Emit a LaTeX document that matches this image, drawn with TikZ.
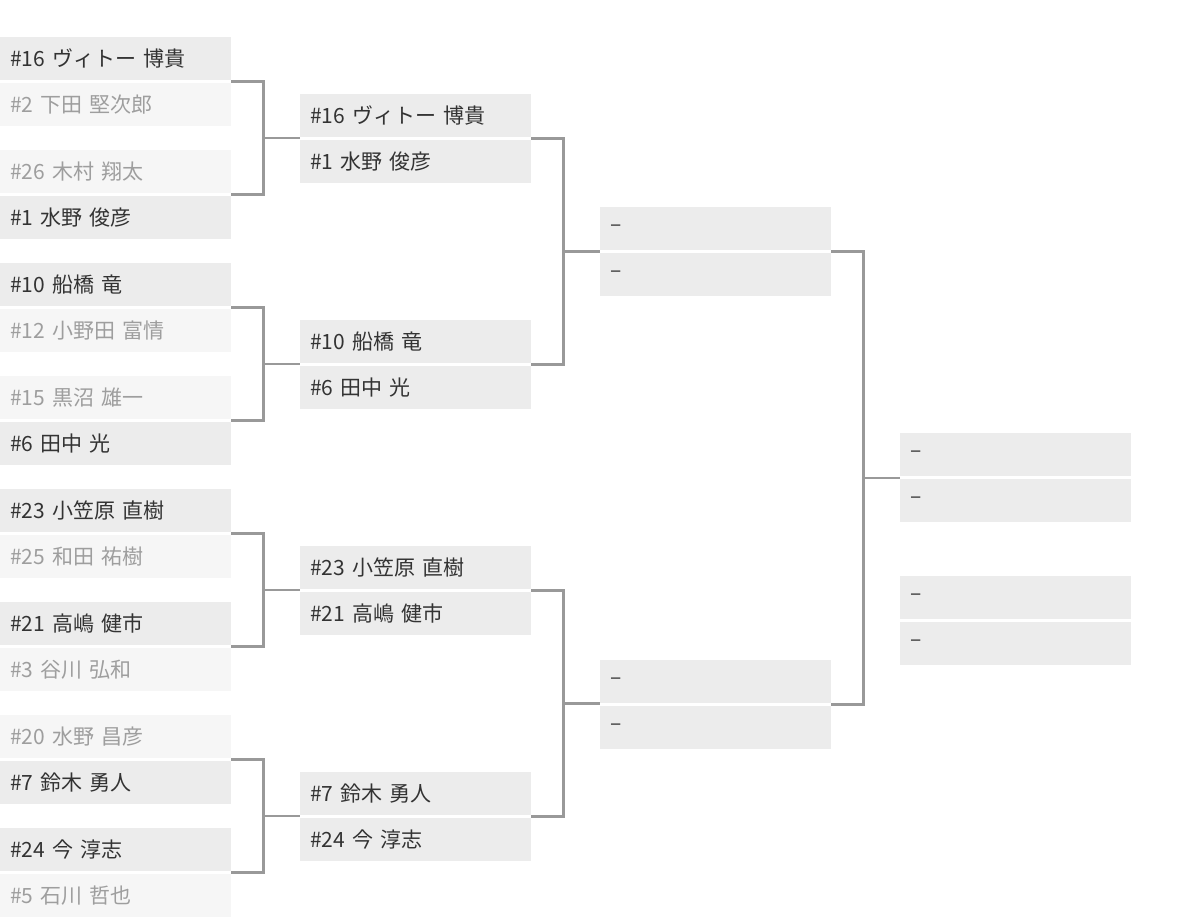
\documentclass[tikz,border=0pt]{standalone}
\usepackage{fontspec}
\setmainfont{Noto Sans CJK JP}
\usetikzlibrary{calc}
\definecolor{winfill}{HTML}{ECECEC}
\definecolor{losefill}{HTML}{F6F6F6}
\definecolor{wire}{HTML}{999999}
\tikzset{
  slot/.style={anchor=north west, minimum width=231pt, minimum height=43pt,
    inner sep=0pt, inner xsep=10pt, text width=211pt, align=left,
    font=\fontsize{21}{21}\selectfont},
  win/.style={slot, fill=winfill, text=black!80},
  lose/.style={slot, fill=losefill, text=black!38},
  wiring/.style={draw=wire, line width=2.5pt}
}
% one match: two boxes, top at y
\newcommand{\match}[7]{%
  \node[#4] (#1a) at (#2,#3) {#5};
  \node[#6] (#1b) at (#2,#3+46) {#7};
  \coordinate (#1m) at ($(#1a.south east)!0.5!(#1b.north east)$);
}
\newcommand{\joinup}[3]{%
  \draw[wiring] (#1m) -- ++(32,0) |- (#2m);
  \draw[wiring] ($(#1m)!0.5!(#2m)$) ++(32,0) -- ($(#1m)!0.5!(#2m)+(69,0)$) coordinate (#3);
}
\begin{document}
\begin{tikzpicture}[x=1pt,y=-1pt]
\useasboundingbox (0,0) rectangle (1200,922);
% round 1
\match{p1}{0}{37}{win}{\#16 ヴィトー 博貴}{lose}{\#2 下田 堅次郎}
\match{p2}{0}{150}{lose}{\#26 木村 翔太}{win}{\#1 水野 俊彦}
\match{p3}{0}{263}{win}{\#10 船橋 竜}{lose}{\#12 小野田 富情}
\match{p4}{0}{376}{lose}{\#15 黒沼 雄一}{win}{\#6 田中 光}
\match{p5}{0}{489}{win}{\#23 小笠原 直樹}{lose}{\#25 和田 祐樹}
\match{p6}{0}{602}{win}{\#21 高嶋 健市}{lose}{\#3 谷川 弘和}
\match{p7}{0}{715}{lose}{\#20 水野 昌彦}{win}{\#7 鈴木 勇人}
\match{p8}{0}{828}{win}{\#24 今 淳志}{lose}{\#5 石川 哲也}
% round 2
\match{q1}{300}{94}{win}{\#16 ヴィトー 博貴}{win}{\#1 水野 俊彦}
\match{q2}{300}{320}{win}{\#10 船橋 竜}{win}{\#6 田中 光}
\match{q3}{300}{546}{win}{\#23 小笠原 直樹}{win}{\#21 高嶋 健市}
\match{q4}{300}{772}{win}{\#7 鈴木 勇人}{win}{\#24 今 淳志}
% semifinals
\match{s1}{600}{207}{win}{--}{win}{--}
\match{s2}{600}{660}{win}{--}{win}{--}
% final and third place
\match{f1}{900}{433}{win}{--}{win}{--}
\match{f2}{900}{576}{win}{--}{win}{--}
% wiring
\joinup{p1}{p2}{j1}
\joinup{p3}{p4}{j2}
\joinup{p5}{p6}{j3}
\joinup{p7}{p8}{j4}
\joinup{q1}{q2}{j5}
\joinup{q3}{q4}{j6}
\joinup{s1}{s2}{j7}
\end{tikzpicture}
\end{document}
